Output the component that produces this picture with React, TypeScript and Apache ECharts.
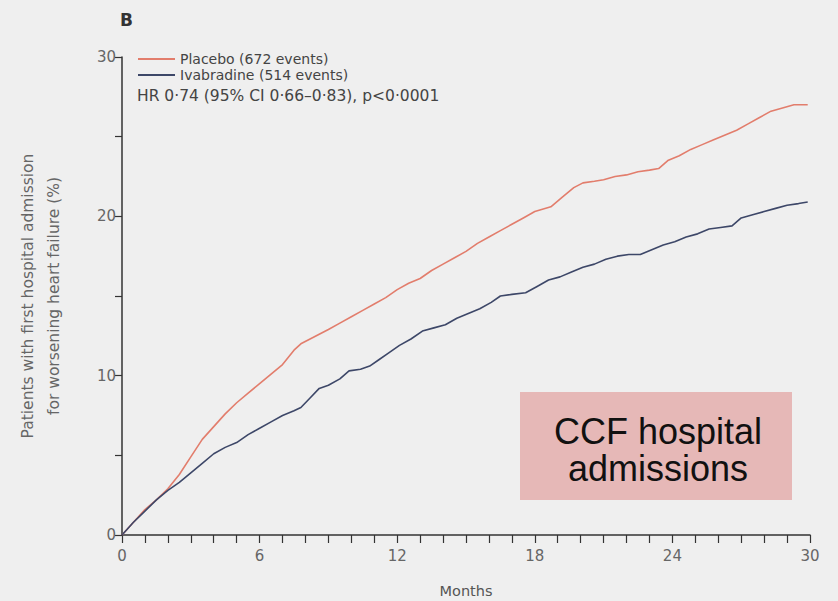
import React, { useEffect, useRef } from "react";
import * as echarts from "echarts";

const placeboName = "Placebo (672 events)";
const ivabradineName = "Ivabradine (514 events)";
const hrText = "HR 0·74 (95% CI 0·66–0·83), p<0·0001";
const panelLabel = "B";
const xTitle = "Months";
const yTitle = "Patients with first hospital admission\nfor worsening heart failure (%)";
const boxText = "CCF hospital\nadmissions";
const xLabelTicks = [0, 6, 12, 18, 24, 30];
const yLabelTicks = [0, 10, 20, 30];

const placebo: [number, number][] = [
  [0, 0], [0.5, 0.8], [1, 1.6], [1.5, 2.2], [2, 2.9], [2.5, 3.8], [3, 4.9], [3.5, 6.0],
  [4, 6.8], [4.5, 7.6], [5, 8.3], [5.5, 8.9], [6, 9.5], [6.5, 10.1], [7, 10.7], [7.5, 11.6],
  [7.8, 12.0], [8.2, 12.3], [8.6, 12.6], [9, 12.9], [9.5, 13.3], [10, 13.7], [10.5, 14.1],
  [11, 14.5], [11.5, 14.9], [12, 15.4], [12.5, 15.8], [13, 16.1], [13.5, 16.6], [14, 17.0],
  [14.5, 17.4], [15, 17.8], [15.5, 18.3], [16, 18.7], [16.5, 19.1], [17, 19.5], [17.5, 19.9],
  [18, 20.3], [18.7, 20.6], [19.2, 21.2], [19.7, 21.8], [20.1, 22.1], [20.6, 22.2], [21, 22.3],
  [21.5, 22.5], [22, 22.6], [22.5, 22.8], [23, 22.9], [23.4, 23.0], [23.8, 23.5], [24.3, 23.8],
  [24.8, 24.2], [25.3, 24.5], [25.8, 24.8], [26.3, 25.1], [26.8, 25.4], [27.3, 25.8],
  [27.8, 26.2], [28.3, 26.6], [28.8, 26.8], [29.3, 27.0], [29.9, 27.0],
];

const ivabradine: [number, number][] = [
  [0, 0], [0.5, 0.8], [1, 1.5], [1.5, 2.2], [2, 2.8], [2.5, 3.3], [3, 3.9], [3.5, 4.5],
  [4, 5.1], [4.5, 5.5], [5, 5.8], [5.5, 6.3], [6, 6.7], [6.5, 7.1], [7, 7.5], [7.5, 7.8],
  [7.8, 8.0], [8.2, 8.6], [8.6, 9.2], [9, 9.4], [9.5, 9.8], [9.9, 10.3], [10.4, 10.4],
  [10.8, 10.6], [11.2, 11.0], [11.6, 11.4], [12.1, 11.9], [12.6, 12.3], [13.1, 12.8],
  [13.6, 13.0], [14.1, 13.2], [14.6, 13.6], [15.1, 13.9], [15.6, 14.2], [16.1, 14.6],
  [16.5, 15.0], [17, 15.1], [17.6, 15.2], [18.1, 15.6], [18.6, 16.0], [19.1, 16.2],
  [19.6, 16.5], [20.1, 16.8], [20.6, 17.0], [21.1, 17.3], [21.6, 17.5], [22.1, 17.6],
  [22.6, 17.6], [23.1, 17.9], [23.6, 18.2], [24.1, 18.4], [24.6, 18.7], [25.1, 18.9],
  [25.6, 19.2], [26.1, 19.3], [26.6, 19.4], [27, 19.9], [27.5, 20.1], [28, 20.3],
  [28.5, 20.5], [29, 20.7], [29.5, 20.8], [29.9, 20.9],
];

const RED = "#e27d6c";
const BLUE = "#3d4768";
const FONT = "DejaVu Sans";

export default function App() {
  const ref = useRef<HTMLDivElement>(null);
  useEffect(() => {
    document.body.style.margin = "0";
    const chart = echarts.init(ref.current!, null, { renderer: "svg" });
    chart.setOption({
      animation: false,
      backgroundColor: "#efefef",
      grid: { left: 122, right: 28, top: 57, bottom: 66, outerBoundsMode: "none", containLabel: false },
      legend: {
        orient: "vertical",
        left: 133,
        top: 47,
        itemWidth: 37,
        itemHeight: 2,
        itemGap: 2,
        icon: "rect",
        data: [placeboName, ivabradineName],
        textStyle: { fontFamily: FONT, fontSize: 14, color: "#444" },
      },
      xAxis: {
        type: "value",
        min: 0,
        max: 30,
        interval: 1,
        name: xTitle,
        nameLocation: "middle",
        nameGap: 48,
        nameTextStyle: { fontFamily: FONT, fontSize: 14.5, color: "#555" },
        splitLine: { show: false },
        axisLine: { lineStyle: { color: "#333", width: 1.5 } },
        axisTick: { show: true, inside: false, length: 8, lineStyle: { color: "#333", width: 1.2 } },
        axisLabel: {
          fontFamily: FONT,
          fontSize: 15,
          color: "#666",
          margin: 13,
          formatter: (v: number) => (xLabelTicks.includes(v) ? String(v) : ""),
        },
      },
      yAxis: {
        type: "value",
        min: 0,
        max: 30,
        interval: 5,
        name: yTitle,
        nameLocation: "middle",
        nameGap: 55,
        nameRotate: 90,
        nameTextStyle: { fontFamily: FONT, fontSize: 15.5, color: "#666", lineHeight: 26, align: "center" },
        splitLine: { show: false },
        axisLine: { show: true, lineStyle: { color: "#333", width: 1.5 } },
        axisTick: { show: true, inside: false, length: 7, lineStyle: { color: "#333", width: 1.2 } },
        axisLabel: {
          fontFamily: FONT,
          fontSize: 15,
          color: "#666",
          margin: 6,
          formatter: (v: number) => (yLabelTicks.includes(v) ? String(v) : ""),
        },
      },
      series: [
        {
          name: placeboName,
          type: "line",
          data: placebo,
          showSymbol: false,
          lineStyle: { color: RED, width: 1.6 },
          itemStyle: { color: RED },
        },
        {
          name: ivabradineName,
          type: "line",
          data: ivabradine,
          showSymbol: false,
          lineStyle: { color: BLUE, width: 1.6 },
          itemStyle: { color: BLUE },
        },
      ],
      graphic: [
        {
          type: "text",
          left: 120,
          top: 11,
          style: { text: panelLabel, fontFamily: FONT, fontWeight: "bold", fontSize: 17, fill: "#333" },
        },
        {
          type: "text",
          left: 137,
          top: 88,
          style: { text: hrText, fontFamily: FONT, fontSize: 15.5, fill: "#444" },
        },
        {
          type: "rect",
          shape: { x: 520, y: 392, width: 272, height: 108 },
          style: { fill: "#e6b8b7" },
        },
        {
          type: "text",
          x: 658,
          y: 450,
          style: {
            text: boxText,
            fontFamily: "Liberation Sans",
            fontSize: 36,
            lineHeight: 37,
            fill: "#111",
            align: "center",
            verticalAlign: "middle",
          },
        },
      ],
    });
    return () => chart.dispose();
  }, []);
  return <div ref={ref} style={{ width: 838, height: 601 }} />;
}
